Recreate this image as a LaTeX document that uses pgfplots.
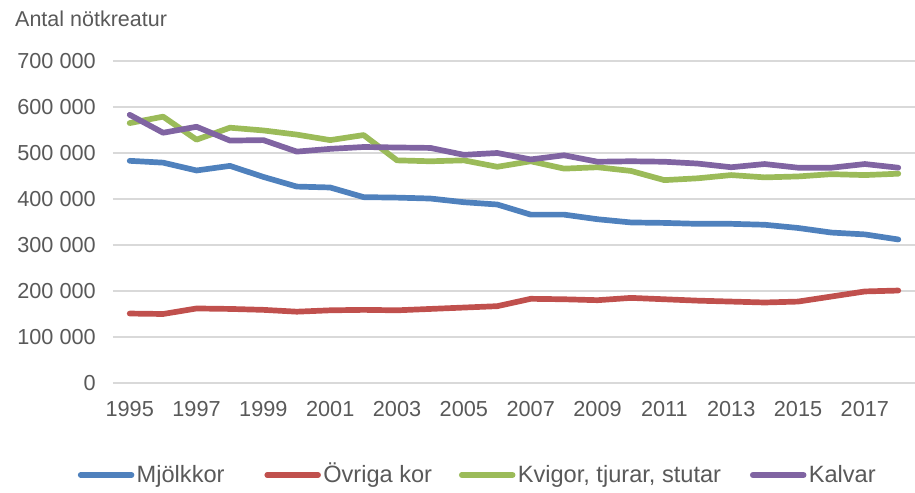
\documentclass[border=0pt]{standalone}
\usepackage{pgfplots}
\pgfplotsset{compat=1.18}
\usepackage{fontspec}
\setmainfont{Liberation Sans}
\definecolor{txt}{HTML}{595959}
\definecolor{gridc}{HTML}{D9D9D9}
\definecolor{c1}{HTML}{4F81BD}
\definecolor{c2}{HTML}{C0504D}
\definecolor{c3}{HTML}{9BBB59}
\definecolor{c4}{HTML}{8064A2}
\begin{document}
\begin{tikzpicture}
\begin{axis}[
  scale only axis, width=802bp, height=322bp,
  xmin=1994.5, xmax=2018.5, ymin=0, ymax=700000,
  axis line style={draw=none}, tick style={draw=none},
  ymajorgrids, major grid style={draw=gridc, line width=1.5bp},
  xtick={1995,1997,1999,2001,2003,2005,2007,2009,2011,2013,2015,2017},
  xticklabels={1995,1997,1999,2001,2003,2005,2007,2009,2011,2013,2015,2017},
  ytick={0,100000,200000,300000,400000,500000,600000,700000},
  yticklabels={0,100 000,200 000,300 000,400 000,500 000,600 000,700 000},
  scaled y ticks=false, scaled x ticks=false,
  ticklabel style={font=\fontsize{21.7bp}{26bp}\selectfont, text=txt, inner sep=0pt},
  xticklabel style={anchor=north, yshift=-18.5bp},
  yticklabel style={anchor=east, xshift=-17bp},
  every axis plot/.append style={line width=5.7bp, line join=round, line cap=round, mark=none},
  legend image code/.code={\draw[#1, line cap=round] (2.85bp,0bp) -- (53.65bp,0bp); \path (0bp,0bp) (56bp,0bp);},
  legend columns=-1,
  legend style={draw=none, fill=none, at={(rel axis cs:0,0)}, anchor=west, xshift=-38bp, yshift=-92bp,
    inner sep=0pt, outer sep=0pt, font=\fontsize{23.6bp}{28bp}\selectfont, text=txt,
    cells={anchor=west}, nodes={inner sep=0pt, text height=19.6bp, text depth=5bp},
    /tikz/column 2/.style={column sep=37bp},
    /tikz/column 4/.style={column sep=24bp},
    /tikz/column 6/.style={column sep=26bp}},
]
\addplot[c1] coordinates {(1995,483000)(1996,479000)(1997,462000)(1998,472000)(1999,448000)(2000,427000)(2001,425000)(2002,404000)(2003,403000)(2004,401000)(2005,393000)(2006,388000)(2007,366000)(2008,366000)(2009,356000)(2010,349000)(2011,348000)(2012,346000)(2013,346000)(2014,344000)(2015,337000)(2016,327000)(2017,323000)(2018,312000)};
\addlegendentry{Mjölkkor}
\addplot[c2] coordinates {(1995,151000)(1996,150000)(1997,162000)(1998,161000)(1999,159000)(2000,155000)(2001,158000)(2002,159000)(2003,158000)(2004,161000)(2005,164000)(2006,167000)(2007,183000)(2008,182000)(2009,180000)(2010,185000)(2011,182000)(2012,179000)(2013,177000)(2014,175000)(2015,177000)(2016,188000)(2017,199000)(2018,201000)};
\addlegendentry{Övriga kor}
\addplot[c3] coordinates {(1995,565000)(1996,579000)(1997,529000)(1998,555000)(1999,549000)(2000,540000)(2001,528000)(2002,539000)(2003,484000)(2004,482000)(2005,484000)(2006,470000)(2007,482000)(2008,466000)(2009,469000)(2010,461000)(2011,441000)(2012,445000)(2013,452000)(2014,447000)(2015,449000)(2016,454000)(2017,452000)(2018,455000)};
\addlegendentry{Kvigor, tjurar, stutar}
\addplot[c4] coordinates {(1995,583000)(1996,544000)(1997,557000)(1998,527000)(1999,528000)(2000,503000)(2001,509000)(2002,513000)(2003,512000)(2004,511000)(2005,496000)(2006,500000)(2007,486000)(2008,495000)(2009,481000)(2010,482000)(2011,481000)(2012,477000)(2013,469000)(2014,476000)(2015,468000)(2016,468000)(2017,476000)(2018,468000)};
\addlegendentry{Kalvar}
\coordinate (SW) at (rel axis cs:0,0);
\coordinate (NW) at (rel axis cs:0,1);
\coordinate (NE) at (rel axis cs:1,1);
\end{axis}
\node[anchor=base west, inner sep=0pt, font=\fontsize{21.5bp}{26bp}\selectfont, text=txt] at ([xshift=-98bp, yshift=34.3bp]NW) {Antal nötkreatur};
\pgfresetboundingbox
\path ([xshift=-113bp,yshift=-110bp]SW) rectangle ([yshift=61bp]NE);
\end{tikzpicture}
\end{document}
